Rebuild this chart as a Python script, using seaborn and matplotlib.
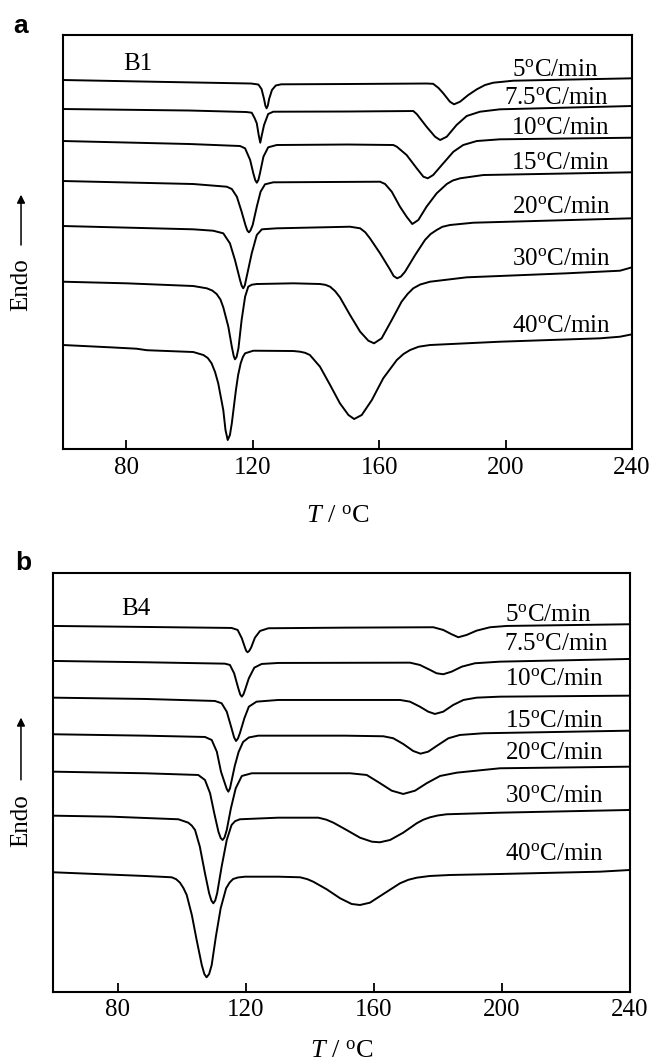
"""
DSC heating curves of B1 and B4 at different heating rates.
"""
import matplotlib
matplotlib.use("Agg")
import matplotlib.pyplot as plt
import pandas as pd
import seaborn as sns

RATES = ["5", "7.5", "10", "15", "20", "30", "40"]
TICKS = [80, 120, 160, 200, 240]

# Panel a, B1: (T in degC, heat flow in arbitrary units)
B1_5 = [(60, 369), (90, 367.2), (119.5, 365.5), (121.8, 364.5), (122.8, 360), (123.6, 350),
        (124.0, 343.5), (124.4, 340.7), (124.8, 343.5), (125.2, 350), (126.1, 359), (127.3, 363.5),
        (129, 364.7), (150, 365), (175, 365.5), (177.1, 365.2), (178.8, 361), (180.3, 355.7),
        (182.4, 347.3), (183.7, 344.7), (185.6, 347.3), (188.2, 354), (190.9, 359.7), (193.5, 364),
        (196.1, 366.3), (202.4, 368.3), (240, 370.7)]
B1_7_5 = [(60, 340), (100, 338.5), (118, 337), (119.7, 336.3), (120.6, 331), (121.3, 325.7),
          (121.9, 314), (122.4, 306.3), (122.9, 314), (123.6, 324), (124.9, 335), (126.5, 337.3),
          (150, 337.5), (170.8, 338), (171.9, 335), (175, 322.3), (177.7, 312.3), (179.3, 309),
          (181.4, 312.3), (184.5, 324), (187.7, 333), (191.9, 337.3), (198.2, 339.7), (240, 343)]
B1_10 = [(60, 308), (100, 305), (116, 303), (117.6, 300.7), (119.2, 289), (120.2, 275.7),
         (120.8, 269), (121.3, 266.3), (121.8, 269), (122.3, 275.7), (123.4, 292.3), (124.9, 301.7),
         (127.6, 304), (150, 304.5), (164.5, 304), (165.6, 302.3), (168.7, 294), (171.9, 280.7),
         (174, 272.3), (175.4, 270.7), (177.1, 274), (180.3, 285.7), (183.5, 297.3), (186.6, 304),
         (190.9, 308), (198.2, 309.7), (240, 311.3)]
B1_15 = [(60, 268), (101.2, 265), (111.8, 262.3), (113.4, 260), (115, 252.3), (116.5, 237.3),
         (117.7, 224), (118.3, 218.5), (118.8, 216.7), (119.3, 218.5), (120, 224), (121.3, 242.3),
         (122.5, 257.3), (123.9, 264.7), (126.5, 266.7), (160.3, 267.3), (161.9, 265), (164, 257.3),
         (166.6, 242.3), (168.7, 232.3), (170.5, 225), (172.4, 229), (175, 242.3), (178.2, 255.7),
         (181.4, 265), (183.3, 268.5), (185.6, 270.7), (193, 274), (240, 276.7)]
B1_20 = [(60, 223), (101.2, 219.7), (107.5, 218.3), (110.7, 215.7), (112.8, 205.7), (114.4, 189),
         (116, 169), (116.5, 163.5), (117, 160.7), (117.5, 163.5), (118.1, 172.3), (119.7, 195.7),
         (121.3, 214), (122.9, 219.7), (127.6, 220.7), (150.8, 222.3), (154, 220.7), (155.6, 216.8),
         (157.1, 210.7), (160.3, 195.7), (163.4, 179.7), (164.6, 173), (165.7, 170.7), (166.9, 172.5),
         (168.2, 177.3), (171.4, 194), (174.5, 209), (176.3, 215), (178.2, 219), (180, 222.2),
         (182.4, 224), (189.8, 226.3), (240, 230.7)]
B1_30 = [(60, 167.3), (80.1, 165.7), (101.2, 163), (105.5, 160.7), (107.2, 158.5), (108.6, 155),
         (109.8, 149.5), (110.7, 141.7), (112.3, 122.3), (113.4, 102.3), (114, 93), (114.4, 89.7),
         (114.9, 92), (115.5, 100.7), (116.5, 129), (117.6, 152.3), (118.6, 162.3), (119.7, 164.3),
         (121.3, 165), (132.9, 165.7), (141.3, 165), (143, 164.2), (144.5, 162.3), (146.1, 157.8),
         (147.6, 151.7), (150.8, 134), (154, 117.3), (156.6, 108.3), (158.4, 105.7), (160.8, 110.7),
         (164, 129), (167.1, 147.3), (169, 155), (170.8, 160.7), (173, 164.5), (176.1, 167.3),
         (187.7, 171.7), (219.3, 175.7), (236.2, 178.3), (240, 181.7)]
B1_40 = [(60, 104), (74.9, 101.7), (83.3, 100.3), (86.5, 98.8), (101.2, 97), (104.4, 94),
         (105.8, 91), (107, 85.7), (108.1, 77), (109.1, 65.7), (110.7, 39), (111.4, 19), (112.1, 9),
         (112.8, 14), (113.4, 25.7), (114.7, 59), (115.4, 74), (116.2, 85.7), (116.9, 92),
         (117.6, 95.7), (120.2, 98.3), (132.9, 98), (135, 97.3), (136.6, 96.2), (138.1, 94),
         (141.3, 82.3), (144.5, 64), (147.6, 45.7), (150.3, 34), (152.1, 30), (154.5, 34), (157.7, 49),
         (161.3, 70.7), (165.6, 89), (167.7, 95), (169.8, 99), (172.5, 102.3), (176.1, 104),
         (198.2, 107.3), (229.9, 110.7), (236.2, 112.3), (240, 114.7)]

# Panel b, B4
B4_5 = [(60, 365.5), (88.6, 364.5), (115.6, 363.5), (117.5, 361.5), (118.8, 353.2), (119.8, 343.8),
        (120.2, 340.5), (120.6, 339.2), (121.1, 340.5), (121.7, 343.8), (122.9, 353.8), (124.5, 360.5),
        (127.1, 363.2), (151, 363.8), (178.6, 364.2), (181.7, 361.5), (184.3, 357.2), (186.4, 354.2),
        (189, 356.5), (192.1, 360.8), (196.3, 364.2), (201.5, 365.5), (240, 367.2)]
B4_7_5 = [(60, 330.5), (88.6, 329.2), (113.5, 327.8), (115.1, 326.5), (116.4, 318.2), (117.7, 303.2),
          (118.3, 297), (118.8, 294.8), (119.3, 297), (119.8, 301.5), (121, 313.2), (122.7, 323.8),
          (125, 327.5), (130.2, 328.5), (171.3, 328.8), (174.4, 326.5), (177.6, 321.5), (179.6, 318.2),
          (181.7, 317.2), (184.3, 319.8), (187.5, 324.8), (191.6, 328.2), (199.4, 329.8), (240, 332.5)]
B4_10 = [(60, 293.8), (88.6, 292.5), (110.4, 290.5), (112.5, 288.2), (114.1, 279.8), (115.6, 263.2),
         (116.4, 254), (117, 250.5), (117.6, 253), (118.2, 258.2), (119.6, 273.2), (121, 284.8),
         (123.4, 289.8), (130.2, 291.5), (168.2, 291.5), (171.3, 289.8), (174.4, 284.8), (177, 279.8),
         (179.1, 277.5), (181.7, 279.8), (184.8, 286.5), (188, 291.5), (192.1, 293.8), (199.4, 294.8),
         (240, 295.8)]
B4_15 = [(60, 257.2), (88.6, 255.8), (107.3, 254.5), (109.4, 251.5), (111, 239.8), (112.3, 219.8),
         (113.5, 208.2), (114.1, 202.5), (114.6, 199.8), (115.1, 203), (115.6, 210.5), (116.6, 225.5),
         (117.8, 239.5), (119.2, 249.5), (121, 254), (123.9, 255.8), (151, 255.8), (163, 255.2),
         (166.1, 253.2), (169.2, 247.5), (172.3, 240.5), (174.6, 237.8), (177, 239.8), (180.1, 246.5),
         (183.3, 253.2), (186.9, 256.5), (194.2, 258.2), (240, 260.8)]
B4_20 = [(60, 219.8), (88.6, 218.2), (105.2, 216.5), (107.3, 211.5), (108.9, 198.2), (110.2, 178.2),
         (111.5, 159.8), (112.2, 153.5), (112.8, 151.5), (113.4, 154), (114.1, 161.5), (115.4, 183.2),
         (116.9, 203.2), (118.8, 215.5), (121.9, 218.2), (152.6, 218.2), (157.8, 216.5), (162, 208.2),
         (165.6, 200.8), (169.2, 197.5), (172.9, 200.8), (176.5, 208.2), (180.7, 215.5), (185.9, 218.8),
         (199.4, 223.2), (240, 224.8)]
B4_30 = [(60, 175.8), (78.2, 174.8), (99, 172.2), (102.1, 168.8), (103.2, 165.8), (104.2, 161.5),
         (105.7, 144.8), (107.3, 118.2), (108.6, 98.2), (109.3, 91), (109.9, 88.2), (110.5, 91),
         (111.1, 98.2), (112.5, 124.8), (114.1, 151.5), (115.6, 166.5), (116.7, 170.3), (118.2, 172.2),
         (130.2, 173.8), (142.7, 173.8), (145.2, 171.8), (147.4, 168.8), (151.5, 161.5), (155.7, 153.8),
         (159.4, 149.8), (161.9, 149.2), (165.1, 151.5), (169.2, 158.8), (173.4, 168.2), (175.5, 171.8),
         (177.6, 174.2), (180, 176), (182.8, 177.2), (199.4, 178.8), (240, 181.5)]
B4_40 = [(60, 119.2), (73, 117.5), (88.6, 115.5), (96.9, 114.2), (98.3, 112.3), (99.5, 108.8),
         (100.6, 103.3), (101.6, 96.5), (103.2, 76.5), (104.7, 51.5), (106.3, 26.5), (107.1, 17.5),
         (107.8, 14.2), (108.6, 17.5), (109.4, 26.5), (110.7, 54.8), (112.2, 83.2), (113.9, 103.2),
         (115, 109), (116.1, 112.5), (117.6, 114), (119.8, 114.8), (130.2, 114.8), (137, 114.2),
         (139.2, 112.4), (141.1, 109.8), (145.3, 102.2), (149.5, 93.2), (153.1, 87.5), (155.7, 86.5),
         (158.8, 88.8), (163, 97.5), (168.2, 108.2), (170.8, 111.7), (173.4, 113.8), (177.5, 115.5),
         (183.8, 116.5), (199.4, 117.5), (230.6, 119.8), (240, 121.5)]

B1_CURVES = [B1_5, B1_7_5, B1_10, B1_15, B1_20, B1_30, B1_40]
B4_CURVES = [B4_5, B4_7_5, B4_10, B4_15, B4_20, B4_30, B4_40]

# heating-rate label anchors (T, heat flow at text baseline)
B1_LABEL_T = [201.9, 199.5, 201.6, 201.6, 201.9, 201.9, 201.9]
B1_LABEL_H = [373, 345, 315, 279.7, 236.3, 184, 117.3]
B4_LABEL_T = [201, 200.7, 201, 201, 201, 201, 201]
B4_LABEL_H = [370.5, 341.5, 306.5, 264.2, 232.5, 189.8, 131.5]


def to_frame(curves):
    rows = []
    for rate, pts in zip(RATES, curves):
        for t, h in pts:
            rows.append({"T": t, "H": h, "rate": rate})
    return pd.DataFrame(rows)


def draw_panel(ax, curves, lab_t, lab_h, sample, sample_pos, ytop, endo):
    df = to_frame(curves)
    sns.lineplot(data=df, x="T", y="H", units="rate", estimator=None, sort=False,
                 color="black", linewidth=1.4, ax=ax)
    for rate, t, h in zip(RATES, lab_t, lab_h):
        ax.text(t, h, rate + r"$^{\mathrm{o}}$C/min", fontsize=18, ha="left", va="baseline")
    ax.text(sample_pos[0], sample_pos[1], sample, fontsize=18, ha="left", va="baseline")

    ax.set_xlim(60, 240)
    ax.set_ylim(0, ytop)
    ax.set_xticks(TICKS)
    ax.set_yticks([])
    ax.set_ylabel("")
    ax.tick_params(axis="x", direction="in", length=6.5, width=1.3, labelsize=18, pad=5.5,
                   top=False)
    for s in ax.spines.values():
        s.set_visible(True)
        s.set_linewidth(1.5)

    # "Endo" label with upward arrow
    ex, ey, a0, a1 = endo
    ax.text(ex, ey, "Endo", rotation=90, fontsize=18, ha="center", va="center",
            transform=ax.transAxes)
    ax.annotate("", xy=(ex, a1), xytext=(ex, a0), xycoords="axes fraction",
                textcoords="axes fraction",
                arrowprops=dict(arrowstyle="-|>", lw=1.1, color="black", mutation_scale=12))


def main():
    sns.set_style("ticks")
    plt.rcParams["font.family"] = ["Liberation Serif", "DejaVu Serif"]
    plt.rcParams["mathtext.fontset"] = "custom"
    plt.rcParams["mathtext.rm"] = "Liberation Serif"
    plt.rcParams["mathtext.it"] = "Liberation Serif:italic"
    for key in ["text.color", "axes.labelcolor", "xtick.color", "ytick.color", "axes.edgecolor"]:
        plt.rcParams[key] = "black"

    fig = plt.figure(figsize=(6.49, 10.61), dpi=100)
    ax_a = fig.add_axes([0.0971, 0.5768, 0.8767, 0.3902])
    ax_b = fig.add_axes([0.0824, 0.0655, 0.8883, 0.3945])

    draw_panel(ax_a, B1_CURVES, B1_LABEL_T, B1_LABEL_H, "B1", (79.1, 379), 414,
               (-0.0738, 0.396, 0.486, 0.621))
    draw_panel(ax_b, B4_CURVES, B4_LABEL_T, B4_LABEL_H, "B4", (81.3, 376.5), 418.5,
               (-0.0564, 0.408, 0.499, 0.661))

    for ax, lx, ly in [(ax_a, 0.482, -0.164), (ax_b, 0.5, -0.143)]:
        ax.set_xlabel(r"$T$ / $^{\mathrm{o}}$C", fontsize=19)
        ax.xaxis.set_label_coords(lx, ly)
        ax.xaxis.label.set_va("center")

    fig.text(21 / 649, 1 - 26 / 1061, "a", fontfamily="Liberation Sans", fontweight="bold",
             fontsize=19, ha="center", va="center")
    fig.text(23 / 649, 1 - 563 / 1061, "b", fontfamily="Liberation Sans", fontweight="bold",
             fontsize=19, ha="center", va="center")

    fig.savefig("out.png", dpi=100, facecolor="white")


if __name__ == "__main__":
    main()
